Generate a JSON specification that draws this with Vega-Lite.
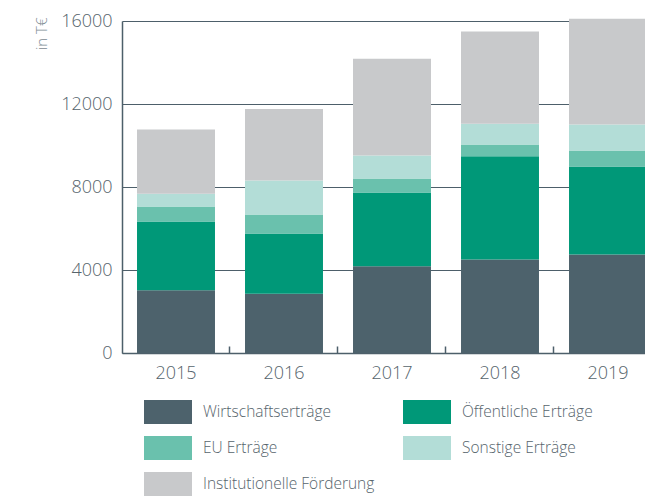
{
  "$schema": "https://vega.github.io/schema/vega-lite/v6.json",
  "autosize": {"type": "none"},
  "width": 523,
  "height": 332,
  "padding": {"left": 122, "top": 21, "right": 0, "bottom": 144},
  "background": "white",
  "config": {
    "font": "Open Sans",
    "view": {"stroke": null},
    "axis": {"labelFont": "Open Sans", "titleFont": "Open Sans", "labelFontWeight": 300},
    "legend": {"labelFont": "Open Sans", "labelFontWeight": 300}
  },
  "data": {
    "values": [
      {"year": "2015", "cat": "Wirtschaftserträge", "ord": 1, "value": 3020},
      {"year": "2015", "cat": "Öffentliche Erträge", "ord": 2, "value": 3320},
      {"year": "2015", "cat": "EU Erträge", "ord": 3, "value": 720},
      {"year": "2015", "cat": "Sonstige Erträge", "ord": 4, "value": 610},
      {"year": "2015", "cat": "Institutionelle Förderung", "ord": 5, "value": 3100},
      {"year": "2016", "cat": "Wirtschaftserträge", "ord": 1, "value": 2860},
      {"year": "2016", "cat": "Öffentliche Erträge", "ord": 2, "value": 2900},
      {"year": "2016", "cat": "EU Erträge", "ord": 3, "value": 915},
      {"year": "2016", "cat": "Sonstige Erträge", "ord": 4, "value": 1640},
      {"year": "2016", "cat": "Institutionelle Förderung", "ord": 5, "value": 3450},
      {"year": "2017", "cat": "Wirtschaftserträge", "ord": 1, "value": 4175},
      {"year": "2017", "cat": "Öffentliche Erträge", "ord": 2, "value": 3560},
      {"year": "2017", "cat": "EU Erträge", "ord": 3, "value": 675},
      {"year": "2017", "cat": "Sonstige Erträge", "ord": 4, "value": 1105},
      {"year": "2017", "cat": "Institutionelle Förderung", "ord": 5, "value": 4670},
      {"year": "2018", "cat": "Wirtschaftserträge", "ord": 1, "value": 4510},
      {"year": "2018", "cat": "Öffentliche Erträge", "ord": 2, "value": 4975},
      {"year": "2018", "cat": "EU Erträge", "ord": 3, "value": 565},
      {"year": "2018", "cat": "Sonstige Erträge", "ord": 4, "value": 995},
      {"year": "2018", "cat": "Institutionelle Förderung", "ord": 5, "value": 4445},
      {"year": "2019", "cat": "Wirtschaftserträge", "ord": 1, "value": 4750},
      {"year": "2019", "cat": "Öffentliche Erträge", "ord": 2, "value": 4240},
      {"year": "2019", "cat": "EU Erträge", "ord": 3, "value": 770},
      {"year": "2019", "cat": "Sonstige Erträge", "ord": 4, "value": 1250},
      {"year": "2019", "cat": "Institutionelle Förderung", "ord": 5, "value": 5100}
    ]
  },
  "mark": {"type": "bar", "clip": false},
  "encoding": {
    "x": {
      "field": "year",
      "type": "ordinal",
      "scale": {"range": [0, 540], "paddingInner": 0.278, "paddingOuter": 0.139},
      "axis": {
        "title": null,
        "labelAngle": 0,
        "labelFontSize": 18,
        "labelColor": "#56646c",
        "domainColor": "#4d5f6a",
        "domainWidth": 1.5,
        "bandPosition": 1.1923,
        "tickExtra": false,
        "tickSize": -7,
        "tickColor": "#4d5f6a",
        "tickWidth": 1.5,
        "labelPadding": 18,
        "labelBaseline": "top"
      }
    },
    "y": {
      "field": "value",
      "type": "quantitative",
      "aggregate": "sum",
      "stack": "zero",
      "scale": {"domain": [0, 16000], "nice": false},
      "axis": {
        "title": "in T€",
        "titleFontSize": 15,
        "titleFontWeight": 300,
        "titleColor": "#7d8a92",
        "titleAngle": -90,
        "titleAlign": "right",
        "titleBaseline": "middle",
        "titleX": -81,
        "titleY": -4,
        "values": [0, 4000, 8000, 12000, 16000],
        "format": "d",
        "labelFontSize": 18,
        "labelColor": "#56646c",
        "labelPadding": 10,
        "ticks": false,
        "domainColor": "#4d5f6a",
        "domainWidth": 1.5,
        "gridColor": "#4d5f6a",
        "gridWidth": 1.2
      }
    },
    "order": {"field": "ord", "type": "quantitative"},
    "color": {
      "field": "cat",
      "type": "nominal",
      "scale": {
        "domain": ["Wirtschaftserträge", "Öffentliche Erträge", "EU Erträge", "Sonstige Erträge", "Institutionelle Förderung"],
        "range": ["#4d626c", "#009878", "#6ac1ad", "#b3ddd7", "#c8c9cb"]
      },
      "legend": {
        "title": null,
        "orient": "none",
        "legendX": 22,
        "legendY": 367,
        "direction": "horizontal",
        "columns": 2,
        "padding": 0,
        "columnPadding": 28,
        "rowPadding": -11,
        "symbolType": "M-1,-0.5H1V0.5H-1Z",
        "symbolSize": 2304,
        "symbolStrokeWidth": 0,
        "symbolOpacity": 1,
        "labelOffset": 11,
        "labelFontSize": 15.5,
        "labelColor": "#56646c",
        "labelLimit": 300
      }
    }
  }
}
